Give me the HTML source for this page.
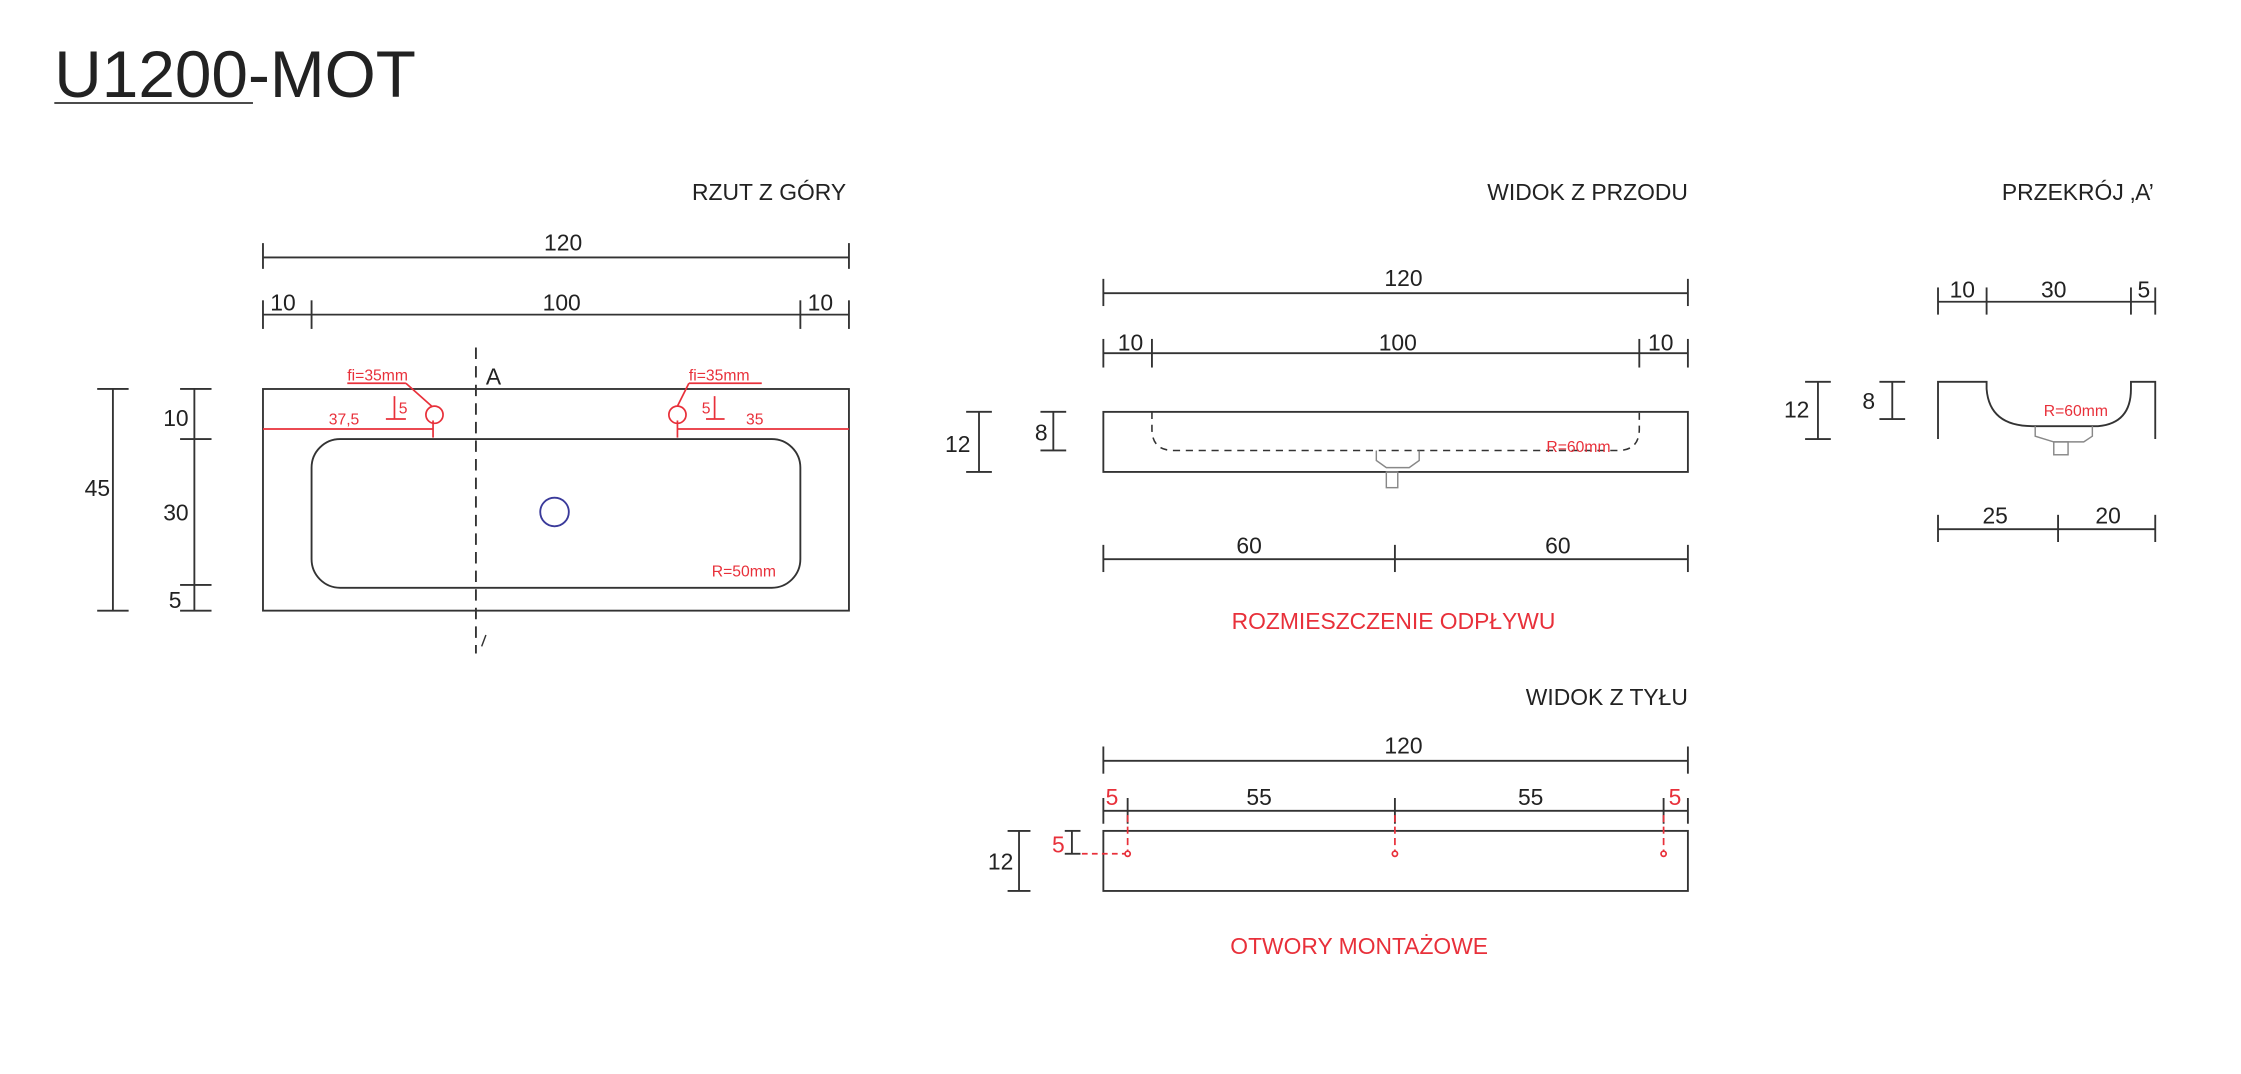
<!DOCTYPE html>
<html><head><meta charset="utf-8"><style>
html,body{margin:0;padding:0;background:#fff;}
svg{display:block;}
text{font-family:"Liberation Sans",sans-serif;fill:#222;}
.r{fill:#e8303a;}
</style></head><body>
<svg width="2241" height="1074" viewBox="0 0 1568 751" preserveAspectRatio="none" xmlns="http://www.w3.org/2000/svg">
<g stroke="#333" stroke-width="1.3" fill="none">
<line x1="184" y1="180" x2="594" y2="180"/><line x1="184" y1="170" x2="184" y2="188"/><line x1="594" y1="170" x2="594" y2="188"/>
<line x1="184" y1="220" x2="594" y2="220"/>
<line x1="184" y1="210" x2="184" y2="230"/><line x1="218" y1="210" x2="218" y2="230"/><line x1="560" y1="210" x2="560" y2="230"/><line x1="594" y1="210" x2="594" y2="230"/>
<rect x="184" y="272" width="410" height="155"/>
<rect x="218" y="307" width="342" height="104" rx="20"/>
<line x1="333" y1="243" x2="333" y2="457" stroke-dasharray="8,5"/>
<line x1="337" y1="452" x2="340" y2="444" stroke-width="1"/>
<circle cx="388" cy="358" r="10" stroke="#3a3a9a"/>
<line x1="79" y1="272" x2="79" y2="427"/><line x1="68" y1="272" x2="90" y2="272"/><line x1="68" y1="427" x2="90" y2="427"/>
<line x1="136" y1="272" x2="136" y2="427"/>
<line x1="126" y1="272" x2="148" y2="272"/><line x1="126" y1="307" x2="148" y2="307"/><line x1="126" y1="409" x2="148" y2="409"/><line x1="126" y1="427" x2="148" y2="427"/>
<line x1="772" y1="205" x2="1181" y2="205"/><line x1="772" y1="195" x2="772" y2="214"/><line x1="1181" y1="195" x2="1181" y2="214"/>
<line x1="772" y1="247" x2="1181" y2="247"/>
<line x1="772" y1="237" x2="772" y2="257"/><line x1="806" y1="237" x2="806" y2="257"/><line x1="1147" y1="237" x2="1147" y2="257"/><line x1="1181" y1="237" x2="1181" y2="257"/>
<rect x="772" y="288" width="409" height="42"/>
<path d="M806 288 V300 Q806 315 821 315 H1132 Q1147 315 1147 300 V288" stroke-dasharray="5,4" stroke-width="1.1"/>
<path d="M963 315 V322 L970 327 H986 L993 322 V315" stroke="#888" stroke-width="1"/>
<rect x="970" y="330" width="8" height="11" stroke="#888" stroke-width="1"/>
<line x1="685" y1="288" x2="685" y2="330"/><line x1="676" y1="288" x2="694" y2="288"/><line x1="676" y1="330" x2="694" y2="330"/>
<line x1="737" y1="288" x2="737" y2="315"/><line x1="728" y1="288" x2="746" y2="288"/><line x1="728" y1="315" x2="746" y2="315"/>
<line x1="772" y1="391" x2="1181" y2="391"/>
<line x1="772" y1="381" x2="772" y2="400"/><line x1="976" y1="381" x2="976" y2="400"/><line x1="1181" y1="381" x2="1181" y2="400"/>
<line x1="772" y1="532" x2="1181" y2="532"/><line x1="772" y1="522" x2="772" y2="541"/><line x1="1181" y1="522" x2="1181" y2="541"/>
<line x1="772" y1="567" x2="1181" y2="567"/>
<line x1="772" y1="558" x2="772" y2="576"/><line x1="789" y1="558" x2="789" y2="576"/><line x1="976" y1="558" x2="976" y2="576"/><line x1="1164" y1="558" x2="1164" y2="576"/><line x1="1181" y1="558" x2="1181" y2="576"/>
<rect x="772" y="581" width="409" height="42"/>
<line x1="713" y1="581" x2="713" y2="623"/><line x1="705" y1="581" x2="721" y2="581"/><line x1="705" y1="623" x2="721" y2="623"/>
<line x1="750" y1="581" x2="750" y2="597"/><line x1="745" y1="581" x2="756" y2="581"/><line x1="745" y1="597" x2="756" y2="597"/>
<line x1="1356" y1="211" x2="1508" y2="211"/>
<line x1="1356" y1="201" x2="1356" y2="220"/><line x1="1390" y1="201" x2="1390" y2="220"/><line x1="1491" y1="201" x2="1491" y2="220"/><line x1="1508" y1="201" x2="1508" y2="220"/>
<path d="M1356 307 V267 H1390 V272 Q1392 298 1422 298 H1468 Q1491 296 1491 272 V267 H1508 V307"/>
<path d="M1424 298 V305 L1437 309 H1458 L1464 305 V298" stroke="#888" stroke-width="1"/>
<rect x="1437" y="309" width="10" height="9" stroke="#888" stroke-width="1"/>
<line x1="1272" y1="267" x2="1272" y2="307"/><line x1="1263" y1="267" x2="1281" y2="267"/><line x1="1263" y1="307" x2="1281" y2="307"/>
<line x1="1324" y1="267" x2="1324" y2="293"/><line x1="1315" y1="267" x2="1333" y2="267"/><line x1="1315" y1="293" x2="1333" y2="293"/>
<line x1="1356" y1="370" x2="1508" y2="370"/>
<line x1="1356" y1="360" x2="1356" y2="379"/><line x1="1440" y1="360" x2="1440" y2="379"/><line x1="1508" y1="360" x2="1508" y2="379"/>
<line x1="38" y1="72" x2="177" y2="72" stroke-width="1.2"/>
</g>
<g stroke="#e8303a" stroke-width="1.2" fill="none">
<line x1="184" y1="300" x2="303" y2="300"/><line x1="474" y1="300" x2="594" y2="300"/>
<line x1="303" y1="294" x2="303" y2="306"/><line x1="474" y1="294" x2="474" y2="306"/>
<circle cx="304" cy="290" r="6"/><circle cx="474" cy="290" r="6"/>
<line x1="243" y1="268" x2="284" y2="268"/><line x1="284" y1="268" x2="302" y2="284"/>
<line x1="482" y1="268" x2="533" y2="268"/><line x1="482" y1="268" x2="474" y2="284"/>
<line x1="276" y1="277" x2="276" y2="293"/><line x1="270" y1="293" x2="284" y2="293"/>
<line x1="500" y1="277" x2="500" y2="293"/><line x1="494" y1="293" x2="507" y2="293"/>
<line x1="789" y1="570" x2="789" y2="595" stroke-dasharray="5,3"/>
<line x1="976" y1="570" x2="976" y2="595" stroke-dasharray="5,3"/>
<line x1="1164" y1="570" x2="1164" y2="595" stroke-dasharray="5,3"/>
<line x1="757" y1="597" x2="787" y2="597" stroke-dasharray="4,3"/>
<circle cx="789" cy="597" r="1.8"/><circle cx="976" cy="597" r="1.8"/><circle cx="1164" cy="597" r="1.8"/>
</g>
<text x="38" y="68" font-size="46" fill="#111">U1200-MOT</text>
<g font-size="16">
<text x="592" y="140" text-anchor="end">RZUT Z GÓRY</text>
<text x="394" y="175" text-anchor="middle">120</text>
<text x="198" y="217" text-anchor="middle">10</text>
<text x="393" y="217" text-anchor="middle">100</text>
<text x="574" y="217" text-anchor="middle">10</text>
<text x="340" y="269">A</text>
<text x="77" y="347" text-anchor="end">45</text>
<text x="132" y="298" text-anchor="end">10</text>
<text x="132" y="364" text-anchor="end">30</text>
<text x="127" y="425" text-anchor="end">5</text>
<text x="1181" y="140" text-anchor="end">WIDOK Z PRZODU</text>
<text x="982" y="200" text-anchor="middle">120</text>
<text x="791" y="245" text-anchor="middle">10</text>
<text x="978" y="245" text-anchor="middle">100</text>
<text x="1162" y="245" text-anchor="middle">10</text>
<text x="679" y="316" text-anchor="end">12</text>
<text x="733" y="308" text-anchor="end">8</text>
<text x="874" y="387" text-anchor="middle">60</text>
<text x="1090" y="387" text-anchor="middle">60</text>
<text x="1181" y="493" text-anchor="end">WIDOK Z TYŁU</text>
<text x="982" y="527" text-anchor="middle">120</text>
<text x="881" y="563" text-anchor="middle">55</text>
<text x="1071" y="563" text-anchor="middle">55</text>
<text x="709" y="608" text-anchor="end">12</text>
<text x="1507" y="140" text-anchor="end">PRZEKRÓJ ‚A’</text>
<text x="1373" y="208" text-anchor="middle">10</text>
<text x="1437" y="208" text-anchor="middle">30</text>
<text x="1500" y="208" text-anchor="middle">5</text>
<text x="1266" y="292" text-anchor="end">12</text>
<text x="1312" y="286" text-anchor="end">8</text>
<text x="1396" y="366" text-anchor="middle">25</text>
<text x="1475" y="366" text-anchor="middle">20</text>
</g>
<g font-size="16">
<text class="r" x="975" y="440" text-anchor="middle">ROZMIESZCZENIE ODPŁYWU</text>
<text class="r" x="951" y="667" text-anchor="middle">OTWORY MONTAŻOWE</text>
<text class="r" x="778" y="563" text-anchor="middle">5</text>
<text class="r" x="1172" y="563" text-anchor="middle">5</text>
<text class="r" x="745" y="596" text-anchor="end">5</text>
</g>
<g font-size="11">
<text class="r" x="243" y="266">fi=35mm</text>
<text class="r" x="482" y="266">fi=35mm</text>
<text class="r" x="279" y="289">5</text>
<text class="r" x="491" y="289">5</text>
<text class="r" x="230" y="297">37,5</text>
<text class="r" x="522" y="297">35</text>
<text class="r" x="498" y="403">R=50mm</text>
<text class="r" x="1082" y="316">R=60mm</text>
<text class="r" x="1430" y="291">R=60mm</text>
</g>
</svg>
</body></html>
